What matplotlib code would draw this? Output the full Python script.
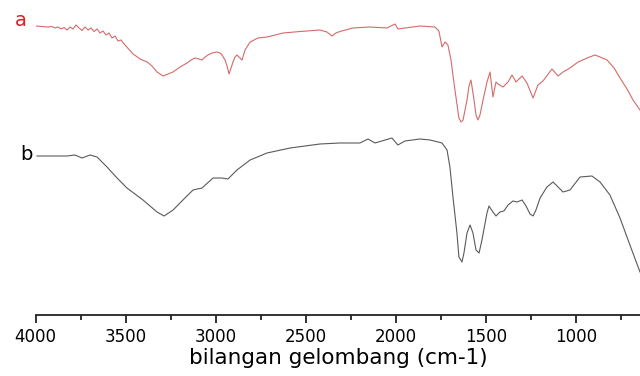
import matplotlib
matplotlib.use("Agg")
import matplotlib.pyplot as plt
from matplotlib.ticker import MultipleLocator

# wavenumber (cm-1) and relative transmittance (arbitrary units)
wn_a = [3998, 3965, 3932, 3910, 3893, 3876, 3859, 3843, 3826, 3809, 3793, 3776,
        3759, 3743, 3726, 3709, 3693, 3676, 3659, 3643, 3626, 3609, 3593, 3576,
        3559, 3543, 3526, 3504, 3459, 3420, 3381, 3354, 3326, 3309, 3293, 3265,
        3237, 3198, 3159, 3137, 3115, 3093, 3076, 3059, 3043, 3020, 2993, 2976,
        2965, 2948, 2937, 2926, 2915, 2904, 2893, 2882, 2871, 2854, 2837, 2809,
        2765, 2715, 2626, 2532, 2421, 2382, 2354, 2332, 2310, 2238, 2143, 2049,
        2004, 1988, 1865, 1782, 1760, 1743, 1726, 1710, 1693, 1671, 1649, 1637,
        1626, 1604, 1593, 1582, 1565, 1554, 1543, 1532, 1515, 1493, 1476, 1460,
        1443, 1432, 1404, 1376, 1354, 1332, 1315, 1298, 1271, 1237, 1210, 1182,
        1132, 1098, 1071, 1032, 987, 937, 893, 865, 826, 787, 754, 715, 682, 643]
t_a = [289, 288.5, 288, 288.5, 287, 288, 286, 287.5, 285, 288, 286, 290,
       287, 284.5, 288, 285, 287, 283.5, 286, 282, 284, 280, 282, 277,
       279, 274, 275, 270, 261, 256, 253, 249, 243, 241, 239, 241,
       243, 248, 252, 255, 257, 256, 255, 258, 260, 262, 263, 262,
       260, 255, 249, 241, 247, 253, 258, 260, 258, 255, 265, 273,
       277, 278, 282, 283.5, 285, 283, 279, 282, 283.5, 287, 288, 287,
       291, 286, 289, 288, 284, 268, 273, 270, 255, 225, 197, 193,
       195, 215, 229, 235, 215, 200, 195, 200, 215, 233, 243, 218,
       233, 231, 228, 233, 240, 233, 236, 239, 232, 217, 230, 234,
       246, 239, 243, 247, 253, 257, 260, 258, 255, 247, 237, 226, 215, 205]

wn_b = [3993, 3826, 3782, 3743, 3698, 3659, 3604, 3548, 3493, 3404, 3326, 3287,
        3237, 3171, 3126, 3076, 3015, 2965, 2932, 2882, 2809, 2715, 2587, 2421,
        2310, 2199, 2154, 2115, 2021, 1988, 1949, 1865, 1809, 1743, 1715, 1699,
        1682, 1660, 1649, 1632, 1621, 1604, 1587, 1571, 1554, 1537, 1521, 1493,
        1482, 1460, 1443, 1421, 1399, 1376, 1349, 1326, 1298, 1276, 1254, 1237,
        1221, 1198, 1160, 1126, 1098, 1071, 1032, 976, 910, 865, 810, 754, 699, 643]
t_b = [159, 159, 160, 157, 160, 158, 148, 137, 127, 115, 103, 99,
       105, 117, 125, 127, 137, 137, 136, 145, 155, 162, 167, 171,
       172, 172, 176, 172, 177, 170, 174, 176, 175, 172, 165, 148,
       118, 82, 58, 53, 62, 82, 90, 82, 65, 62, 75, 102,
       109, 103, 99, 103, 104, 110, 114, 113, 115, 109, 101, 99,
       105, 117, 128, 133, 128, 123, 125, 138, 139, 133, 120, 97, 70, 43]

xticks = [4000, 3500, 3000, 2500, 2000, 1500, 1000]
labels = ["a", "b"]
xlabel = "bilangan gelombang (cm-1)"

fig = plt.figure(figsize=(6.4, 3.76), dpi=100)
ax = fig.add_axes([35.7 / 640, 61.0 / 376, 1 - 35.7 / 640, 315.0 / 376])
ax.plot(wn_a, t_a, color="#d46a6a", lw=0.8)
ax.plot(wn_b, t_b, color="#5a5a5a", lw=0.8)
ax.set_xlim(4000, 643)
ax.set_ylim(0, 315)

for s in ["top", "right", "left"]:
    ax.spines[s].set_visible(False)
ax.spines["bottom"].set_linewidth(1.3)
ax.spines["bottom"].set_color("#222222")
ax.set_yticks([])
ax.set_xticks(xticks)
ax.xaxis.set_minor_locator(MultipleLocator(250))
ax.tick_params(axis="x", which="major", length=6, width=1.3, color="#222222",
               labelsize=12, pad=3)
ax.tick_params(axis="x", which="minor", length=3.5, width=1.3, color="#222222")
ax.set_xlabel(xlabel, fontsize=15.5, labelpad=2)

fig.text(21 / 640, 1 - 21 / 376, labels[0], color="#e02020", fontsize=14,
         ha="center", va="center")
fig.text(26 / 640, 1 - 155 / 376, labels[1], color="black", fontsize=14,
         ha="center", va="center")

fig.savefig("out.png", dpi=100)
